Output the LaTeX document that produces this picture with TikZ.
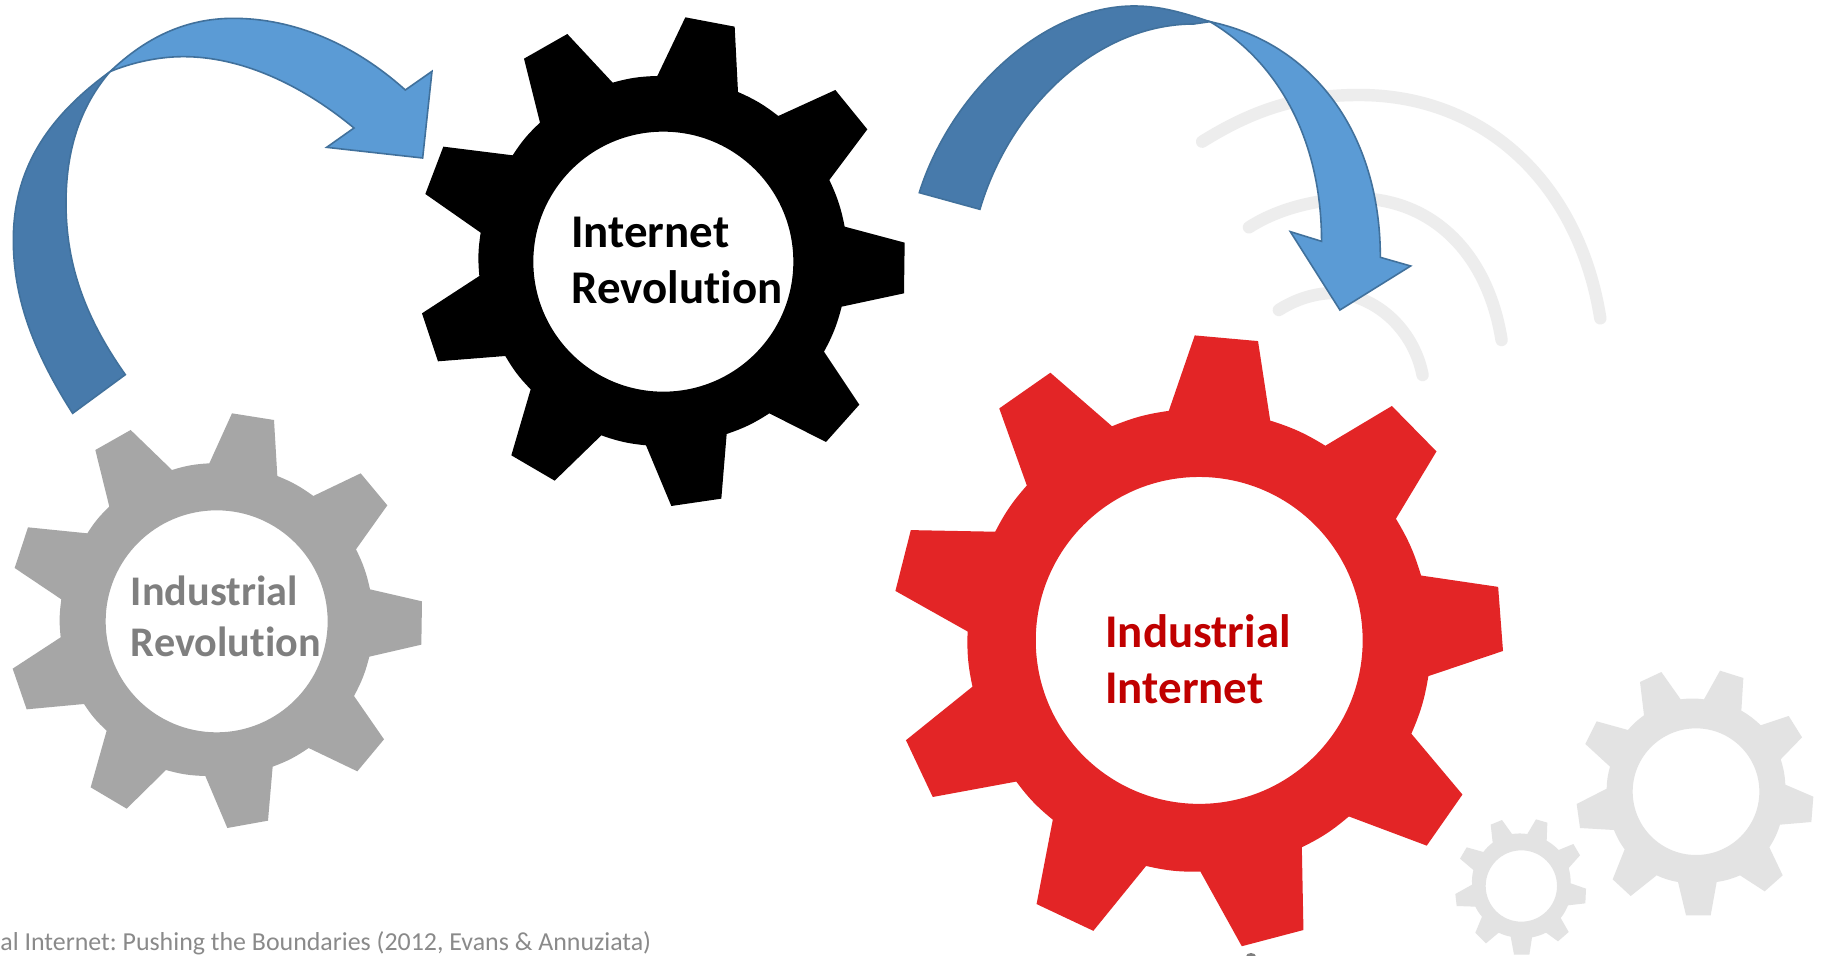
\documentclass[tikz,border=0pt]{standalone}
\usepackage{fontspec}
\setmainfont[Ligatures=NoCommon]{Carlito}
\frenchspacing
\definecolor{arrowdark}{HTML}{477AAB}
\definecolor{arrowlight}{HTML}{5B9BD5}
\definecolor{arrowline}{HTML}{41719C}
\definecolor{geargray}{HTML}{A6A6A6}
\definecolor{gearred}{HTML}{E32526}
\definecolor{gearfaint}{HTML}{E3E3E3}
\definecolor{wavefaint}{HTML}{EDEDED}
\definecolor{textgray}{HTML}{7F7F7F}
\definecolor{textred}{HTML}{C00000}
\definecolor{captiongray}{HTML}{8A8A8A}
\tikzset{
  rr/.style={bend left=7},
  gearshape/.style={even odd rule},
  arrowback/.style={fill=arrowdark,draw=arrowline,line width=0.8pt,line join=miter},
  arrowfront/.style={fill=arrowlight,draw=arrowline,line width=0.8pt,line join=miter},
  wave/.style={draw=wavefaint,line width=6.2pt,line cap=round},
  biglabel/.style={anchor=base west,inner sep=0pt,font=\fontsize{23.45}{28}\selectfont\bfseries},
  smalllabel/.style={anchor=base west,inner sep=0pt,font=\fontsize{21.1}{25.5}\selectfont\bfseries},
}
\begin{document}
\begin{tikzpicture}[x=0.5pt,y=-0.5pt]
\clip (0,0) rectangle (1823,956);
\useasboundingbox (0,0) rectangle (1823,956);
\fill[white] (0,0) rectangle (1823,956);

% faint waves
\begin{scope}[shift={(900,0)},xscale=0.4592,yscale=0.33333]
\draw[wave] (658,425) .. controls (780,320) and (880,285) .. (1000,285) .. controls (1280,285) and (1480,560) .. (1525,955);
\draw[wave] (760,682) .. controls (830,620) and (920,595) .. (1000,595) .. controls (1160,600) and (1280,760) .. (1310,1020);
\draw[wave] (825,930) .. controls (870,890) and (920,875) .. (960,880) .. controls (1050,900) and (1120,1000) .. (1138,1125);
\end{scope}

% black gear
\begin{scope}[shift={(400,0)},scale=0.33333]
\fill[black,gearshape] (856,52)--(1004,80)--(1014,276) to[rr] (1135,348)--(1306,270)--(1402,388)--(1288,540) to[rr] (1334,680)--(1514,728)--(1512,880)--(1325,920) to[rr] (1272,1055)--(1378,1214)--(1278,1326)--(1108,1240) to[rr] (980,1302)--(964,1496)--(814,1518)--(738,1336) to[rr] (604,1306)--(464,1442)--(334,1366)--(392,1168) to[rr] (316,1068)--(114,1084)--(66,940)--(238,828) to[rr] (242,698)--(76,582)--(130,440)--(338,466) to[rr] (420,368)--(372,176)--(502,102)--(638,248) to[rr] (772,228)--cycle (790,785) circle (390);
\end{scope}

% gray gear
\begin{scope}[shift={(0,400)},scale=0.33333]
\fill[geargray,gearshape] (696,40)--(822,60)--(832,228) to[rr] (940,288)--(1082,220)--(1162,316)--(1068,448) to[rr] (1110,568)--(1266,604)--(1264,734)--(1108,770) to[rr] (1062,888)--(1152,1018)--(1072,1114)--(926,1044) to[rr] (818,1100)--(804,1262)--(682,1284)--(616,1128) to[rr] (498,1110)--(380,1226)--(272,1162)--(320,992) to[rr] (252,912)--(80,928)--(38,806)--(182,712) to[rr] (184,598)--(44,504)--(84,382)--(262,400) to[rr] (328,320)--(286,150)--(392,90)--(516,210) to[rr] (628,190)--cycle (650,664) circle (333);
\end{scope}

% red gear
\begin{scope}[shift={(880,320)},scale=0.4056]
\fill[gearred,gearshape] (776,38)--(932,52)--(962,248) to[rr] (1098,310)--(1262,212)--(1372,324)--(1272,490) to[rr] (1334,630)--(1524,658)--(1536,816)--(1352,878) to[rr] (1310,1020)--(1436,1170)--(1348,1296)--(1156,1224) to[rr] (1040,1300)--(1044,1504)--(892,1544)--(790,1360) to[rr] (656,1346)--(526,1506)--(386,1440)--(426,1232) to[rr] (336,1138)--(130,1176)--(64,1036)--(228,904) to[rr] (216,768)--(38,668)--(76,518)--(284,522) to[rr] (362,408)--(294,218)--(420,130)--(572,262) to[rr] (712,224)--cycle (787,790) circle (403);
\end{scope}

% faint gears
\begin{scope}[shift={(1440,650)},scale=0.33333]
\fill[gearfaint,gearshape] (664,66)--(722,148) to[rr] (792,148)--(840,62)--(910,84)--(904,182) to[rr] (962,226)--(1046,198)--(1086,262)--(1022,328) to[rr] (1036,404)--(1120,440)--(1114,516)--(1020,524) to[rr] (988,592)--(1028,676)--(974,724)--(900,676) to[rr] (830,696)--(812,796)--(738,796)--(714,696) to[rr] (650,676)--(572,738)--(518,688)--(554,598) to[rr] (522,540)--(420,534)--(410,462)--(500,416) to[rr] (510,350)--(436,282)--(470,214)--(564,240) to[rr] (612,196)--(600,96)--cycle (768,425) circle (190);
\fill[gearfaint,gearshape] (186,510)--(216,552) to[rr] (262,552)--(288,508)--(322,518)--(320,572) to[rr] (356,600)--(400,582)--(420,616)--(386,654) to[rr] (392,700)--(438,716)--(436,760)--(384,766) to[rr] (362,804)--(386,846)--(354,874)--(318,848) to[rr] (276,862)--(268,914)--(222,914)--(212,860) to[rr] (176,848)--(138,880)--(106,848)--(126,800) to[rr] (106,770)--(50,768)--(46,732)--(96,704) to[rr] (100,660)--(60,626)--(80,592)--(130,606) to[rr] (158,578)--(152,524)--cycle (244,708) circle (107);
\end{scope}

% left arrow
\begin{scope}[scale=0.33333]
\draw[arrowback] (218,1240) .. controls (90,1040) and (40,880) .. (40,720) .. controls (40,520) and (130,360) .. (330,215) .. controls (240,320) and (198,450) .. (198,610) .. controls (198,800) and (260,960) .. (376,1124) -- cycle;
\draw[arrowfront] (330,215) .. controls (440,110) and (560,55) .. (700,55) .. controls (880,55) and (1060,130) .. (1216,270) -- (1296,214) -- (1268,474) -- (980,442) -- (1062,384) .. controls (900,250) and (720,170) .. (550,170) .. controls (470,170) and (390,190) .. (330,215) -- cycle;
\end{scope}

% right arrow
\begin{scope}[shift={(900,0)},xscale=0.4592,yscale=0.33333]
\draw[arrowback] (42,578) .. controls (110,280) and (310,18) .. (510,18) .. controls (570,18) and (620,40) .. (675,65) -- (640,72) .. controls (430,72) and (240,320) .. (174,628) -- cycle;
\draw[arrowfront] (675,65) .. controls (900,130) and (1046,400) .. (1046,772) -- (1112,798) -- (958,930) -- (850,695) -- (918,724) .. controls (918,450) and (840,200) .. (675,65) -- cycle;
\end{scope}

% labels
\node[biglabel,text=black] (irevA) at (571,247.5) {Internet};
\node[biglabel,text=black] (irevB) at (571,303.5) {Revolution};
\node[smalllabel,text=textgray] (indrevA) at (130.5,605) {Industrial};
\node[smalllabel,text=textgray] (indrevB) at (130.5,656) {Revolution};
\node[biglabel,text=textred] (iiA) at (1105,647.5) {Industrial};
\node[biglabel,text=textred] (iiB) at (1105,703.5) {Internet};
\node[anchor=base west,inner sep=0pt,text=captiongray,font=\fontsize{12.95}{15}\selectfont] (caption) at (0,950) {al Internet: Pushing the Boundaries (2012, Evans \& Annuziata)};
\fill[textgray] (1251,956.5) ellipse (5 and 3.5);
\end{tikzpicture}
\end{document}
